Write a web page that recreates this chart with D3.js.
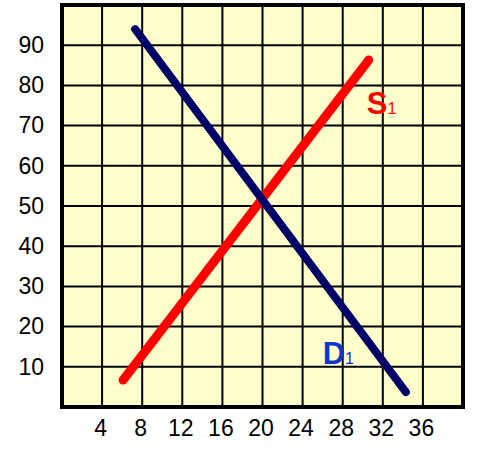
<!DOCTYPE html>
<html>
<head>
<meta charset="utf-8">
<script src="https://cdn.jsdelivr.net/npm/d3@7"></script>
<style>
  body { margin: 0; background: #fff; }
  svg { font-family: "Liberation Sans", Arial, sans-serif; }
  .tick text { font-size: 23px; fill: #000; }
</style>
</head>
<body>
<div id="chart"></div>
<script>
let xTicks = [4, 8, 12, 16, 20, 24, 28, 32, 36]
let yTicks = [10, 20, 30, 40, 50, 60, 70, 80, 90]

// end points of the two curves (quantity, price)
let supply = [{q: 6.1, p: 6.7}, {q: 30.6, p: 86.3}]
let demand = [{q: 7.3, p: 94}, {q: 34.3, p: 3.7}]

let labels = [
  {name: "S", sub: "1", q: 30.4, p: 73, color: "#ff0000"},
  {name: "D", sub: "1", q: 26, p: 10.8, color: "#1436c8"}
]

let margin = {top: 5, right: 16, bottom: 48, left: 62},
    width = 479 - margin.left - margin.right,
    height = 455 - margin.top - margin.bottom;

let x = d3.scaleLinear().domain([0, 40]).range([0, width]);
let y = d3.scaleLinear().domain([0, 100]).range([height, 0]);

let svg = d3.select('#chart').append('svg')
    .attr("width", 479)
    .attr("height", 455)
  .append("g")
    .attr("transform", "translate(" + margin.left + "," + margin.top + ")");

svg.append("rect")
    .attr("width", width)
    .attr("height", height)
    .attr("fill", "#ffffcc");

// grid
svg.selectAll(".vgrid").data(xTicks).enter().append("line")
    .attr("x1", d => x(d)).attr("x2", d => x(d))
    .attr("y1", 0).attr("y2", height)
    .attr("stroke", "#000").attr("stroke-width", 2);

svg.selectAll(".hgrid").data(yTicks).enter().append("line")
    .attr("y1", d => y(d)).attr("y2", d => y(d))
    .attr("x1", 0).attr("x2", width)
    .attr("stroke", "#000").attr("stroke-width", 2);

svg.append("rect")
    .attr("width", width)
    .attr("height", height)
    .attr("fill", "none")
    .attr("stroke", "#000")
    .attr("stroke-width", 4);

// axes (labels only)
let xAxis = svg.append("g")
    .attr("transform", "translate(0," + height + ")")
    .call(d3.axisBottom(x).tickValues(xTicks).tickSize(0).tickPadding(13));
let yAxis = svg.append("g")
    .call(d3.axisLeft(y).tickValues(yTicks).tickSize(0).tickPadding(18));

[xAxis, yAxis].forEach(a => {
  a.select(".domain").remove();
  a.attr("font-family", "Liberation Sans, Arial, sans-serif");
});
xAxis.selectAll("text").attr("dx", -2);

let line = d3.line()
    .x(d => x(d.q))
    .y(d => y(d.p));

svg.append("path")
    .datum(supply)
    .attr("d", line)
    .attr("stroke", "#ff0000")
    .attr("stroke-width", 9)
    .attr("stroke-linecap", "round")
    .attr("fill", "none");

svg.append("path")
    .datum(demand)
    .attr("d", line)
    .attr("stroke", "#000066")
    .attr("stroke-width", 8)
    .attr("stroke-linecap", "round")
    .attr("fill", "none");

labels.forEach(l => {
  let t = svg.append("text")
      .attr("x", x(l.q))
      .attr("y", y(l.p))
      .attr("fill", l.color)
      .attr("font-weight", "bold")
      .attr("font-size", 31);
  t.append("tspan").text(l.name);
  t.append("tspan").text(l.sub).attr("font-size", 16).attr("font-weight", "normal");
});
</script>
</body>
</html>
